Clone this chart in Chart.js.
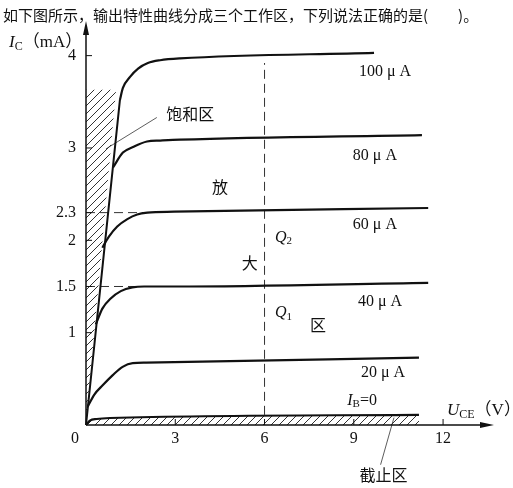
<!DOCTYPE html>
<html>
<head>
<meta charset="utf-8">
<script src="https://cdn.jsdelivr.net/npm/chart.js@4.4.0/dist/chart.umd.min.js"></script>
<style>
  html, body { margin: 0; padding: 0; background: #fff; }
</style>
</head>
<body>
<canvas id="outputChart" width="513" height="488"></canvas>
<script>
// U_CE (V) / I_C (mA) points
const uce100 = [1.14, 1.24, 1.48, 1.75, 2.08, 2.49, 3.16, 9.68];
const ic100 = [3.52, 3.65, 3.77, 3.86, 3.92, 3.95, 3.97, 4.03];
const uce80 = [0.91, 1.24, 1.58, 2.05, 2.49, 3.16, 11.29];
const ic80 = [2.79, 2.95, 3.01, 3.07, 3.08, 3.09, 3.14];
const uce60 = [0.55, 0.77, 1.05, 1.39, 1.72, 2.06, 2.96, 11.5];
const ic60 = [1.92, 2.04, 2.15, 2.23, 2.28, 2.3, 2.31, 2.35];
const uce40 = [0.33, 0.55, 0.83, 1.17, 1.56, 1.95, 2.96, 11.5];
const ic40 = [1.09, 1.26, 1.37, 1.45, 1.49, 1.5, 1.5, 1.54];
const uce20 = [0.06, 0.28, 0.56, 0.9, 1.23, 1.57, 2.02, 11.19];
const ic20 = [0.2, 0.33, 0.43, 0.54, 0.63, 0.67, 0.675, 0.73];
const uce0 = [0, 0.13, 0.36, 0.81, 11.19];
const ic0 = [0, 0.047, 0.065, 0.076, 0.11];

// boundary of saturation region
const satUce = [0, 1.14];
const satIc = [0, 3.52];
const hatchUce = [0, 0, 1.01];
const hatchIc = [0, 3.63, 3.63];

// operating point guides
const qUce = 6;
const qIc = [0.11, 3.92];
const guideIc = [2.3, 1.5];
const guideEnd = [2.1, 1.7];

// axes
const xTicks = [3, 6, 9, 12];
const yTicks = [1, 1.5, 2, 2.3, 3, 4];
const curveLabels = ["100 μ A", "80 μ A", "60 μ A", "40 μ A", "20 μ A"];
const titleText = "如下图所示，输出特性曲线分成三个工作区，下列说法正确的是(\u3000\u3000)。";

const pts = (xs, ys) => xs.map((x, i) => ({ x: x, y: ys[i] }));

const ctx = document.getElementById("outputChart");
const c2d = ctx.getContext("2d");

// diagonal hatching for the saturation and cut-off regions
function makeHatch() {
    const c = document.createElement("canvas");
    c.width = 8; c.height = 8;
    const g = c.getContext("2d");
    g.strokeStyle = "#333";
    g.lineWidth = 1;
    g.beginPath();
    g.moveTo(0, 8); g.lineTo(8, 0);
    g.moveTo(-2, 2); g.lineTo(2, -2);
    g.moveTo(6, 10); g.lineTo(10, 6);
    g.stroke();
    return c2d.createPattern(c, "repeat");
}
const hatch = makeHatch();

const curve = (data) => ({
    data: data,
    borderColor: "#111",
    borderWidth: 2.2,
    pointRadius: 0,
    cubicInterpolationMode: "monotone",
    fill: false,
    clip: false,
});

const dashed = (data) => ({
    data: data,
    borderColor: "#333",
    borderWidth: 1,
    borderDash: [9, 5],
    pointRadius: 0,
    fill: false,
    clip: false,
});

const thin = (data) => ({
    data: data,
    borderColor: "#333",
    borderWidth: 0.8,
    pointRadius: 0,
    fill: false,
    clip: false,
});

// text placed in U_CE / I_C units
const notes = [
    { t: "饱和区", x: 3.5, y: 3.37 },
    { t: "放", x: 4.5, y: 2.58 },
    { t: "大", x: 5.5, y: 1.76 },
    { t: "区", x: 7.8, y: 1.08 },
    { t: "截止区", x: 10.0, y: -0.54 },
];
const curveLabelPos = [[10.05, 3.83], [9.71, 2.91], [9.71, 2.17], [9.88, 1.33], [9.98, 0.56]];

function subText(g, x, y, main, sub, rest, size) {
    g.textAlign = "left";
    g.textBaseline = "middle";
    g.font = "italic " + size + "px 'Liberation Serif'";
    g.fillText(main, x, y);
    let w = g.measureText(main).width;
    g.font = Math.round(size * 0.7) + "px 'Liberation Serif'";
    g.fillText(sub, x + w, y + size * 0.22);
    w += g.measureText(sub).width;
    if (rest) {
        g.font = size + "px 'Liberation Serif', 'Noto Sans CJK SC'";
        g.fillText(rest, x + w, y);
    }
}

const decor = {
    id: "decor",
    afterDraw(chart) {
        const g = chart.ctx;
        const xs = chart.scales.x, ys = chart.scales.y;
        const a = chart.chartArea;
        const X = (v) => xs.getPixelForValue(v);
        const Y = (v) => ys.getPixelForValue(v);
        g.save();
        g.fillStyle = "#111";
        g.strokeStyle = "#111";

        // axes with arrows
        g.lineWidth = 1.5;
        g.beginPath();
        g.moveTo(a.left, a.bottom); g.lineTo(a.left, a.top);
        g.moveTo(a.left, a.bottom); g.lineTo(a.right, a.bottom);
        g.stroke();
        g.beginPath();
        g.moveTo(a.left, a.top - 6); g.lineTo(a.left - 3, a.top + 8); g.lineTo(a.left + 3, a.top + 8);
        g.closePath(); g.fill();
        g.beginPath();
        g.moveTo(a.right + 6, a.bottom); g.lineTo(a.right - 8, a.bottom - 3); g.lineTo(a.right - 8, a.bottom + 3);
        g.closePath(); g.fill();

        // ticks and labels
        g.lineWidth = 1;
        g.font = "16px 'Liberation Serif'";
        g.textBaseline = "middle";
        g.textAlign = "right";
        yTicks.forEach((v) => {
            g.beginPath(); g.moveTo(a.left, Y(v)); g.lineTo(a.left + 6, Y(v)); g.stroke();
            g.fillText(String(v), a.left - 10, Y(v));
        });
        g.textAlign = "center";
        xTicks.forEach((v) => {
            g.beginPath(); g.moveTo(X(v), a.bottom); g.lineTo(X(v), a.bottom - 6); g.stroke();
            g.fillText(String(v), X(v), a.bottom + 14);
        });
        g.fillText("0", a.left - 11, a.bottom + 14);

        // axis titles
        subText(g, 9, 43, "I", "C", "（mA）", 17);
        subText(g, a.right - 41, a.bottom - 14, "U", "CE", "（V）", 17);

        // curve labels
        g.font = "16px 'Liberation Serif', 'DejaVu Serif'";
        g.textAlign = "center";
        curveLabels.forEach((t, i) => {
            g.fillText(t, X(curveLabelPos[i][0]), Y(curveLabelPos[i][1]));
        });
        subText(g, X(8.78), Y(0.26), "I", "B", "=0", 16);
        subText(g, X(6.35), Y(2.03), "Q", "2", "", 16);
        subText(g, X(6.35), Y(1.21), "Q", "1", "", 16);

        // region names
        g.font = "16px 'Noto Sans CJK SC'";
        g.textAlign = "center";
        notes.forEach((n) => g.fillText(n.t, X(n.x), Y(n.y)));

        // question
        g.textAlign = "left";
        g.font = "15px 'Noto Sans CJK SC'";
        g.fillText(titleText, 3, 15);
        g.restore();
    },
};

const outputConfig = {
    type: "line",
    data: {
        datasets: [
            {
                data: pts(hatchUce, hatchIc),
                borderWidth: 0,
                borderColor: "rgba(0,0,0,0)",
                backgroundColor: hatch,
                pointRadius: 0,
                fill: "shape",
            },
            Object.assign(curve(pts(uce0, ic0)), { fill: "origin", backgroundColor: hatch }),
            Object.assign(curve(pts(satUce, satIc)), { borderWidth: 2 }),
            curve(pts(uce100, ic100)),
            curve(pts(uce80, ic80)),
            curve(pts(uce60, ic60)),
            curve(pts(uce40, ic40)),
            curve(pts(uce20, ic20)),
            dashed(pts([qUce, qUce], qIc)),
            dashed(pts([0, guideEnd[0]], [guideIc[0], guideIc[0]])),
            dashed(pts([0, guideEnd[1]], [guideIc[1], guideIc[1]])),
            thin(pts([2.38, 0.67], [3.33, 2.99])),
            thin(pts([10.35, 9.9], [0.08, -0.43])),
        ],
    },
    options: {
        responsive: false,
        animation: false,
        layout: { padding: { left: 86, right: 25, top: 27, bottom: 63 } },
        scales: {
            x: { type: "linear", min: 0, max: 13.51, display: false },
            y: { type: "linear", min: 0, max: 4.31, display: false },
        },
        plugins: { legend: { display: false }, tooltip: { enabled: false } },
    },
    plugins: [decor],
};

window.myOutput = new Chart(ctx, outputConfig);
</script>
</body>
</html>
